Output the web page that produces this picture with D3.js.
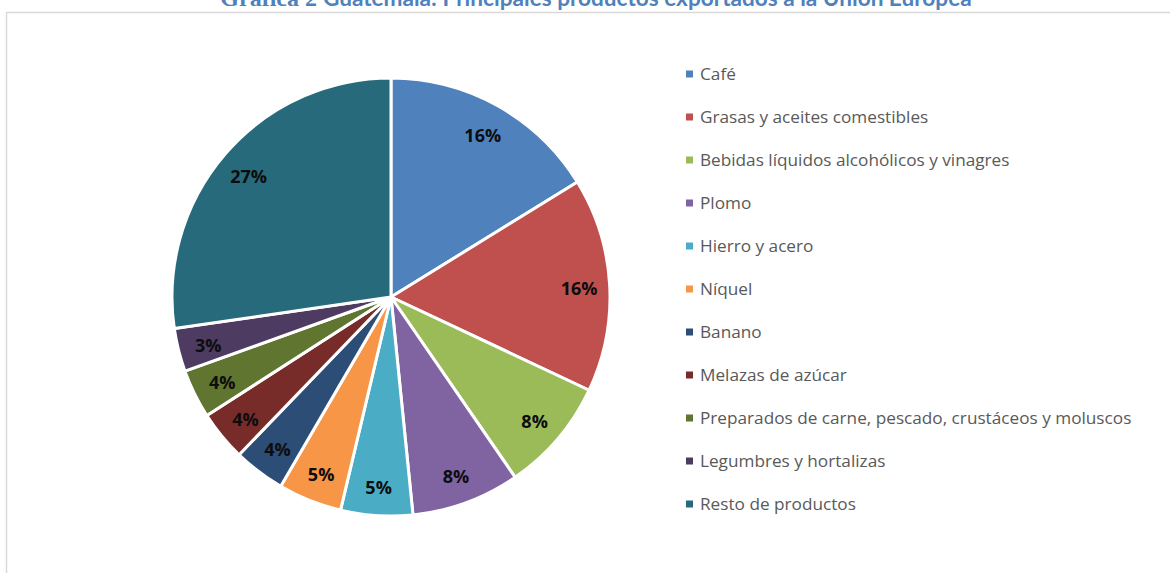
<!DOCTYPE html>
<html>
<head>
<meta charset="utf-8">
<script src="https://cdn.jsdelivr.net/npm/d3@7"></script>
<style>
  body { margin: 0; background: #fff; }
  svg { display: block; }
  .legend-text { font-family: "Open Sans", Lato, sans-serif; font-size: 17.2px; fill: #595959; }
  .pct { font-family: "Open Sans", Lato, sans-serif; font-size: 18px; font-weight: bold; fill: #0d0d0d; }
</style>
</head>
<body>
<svg id="chart"></svg>
<script>
const categories = [
  "Café", "Grasas y aceites comestibles", "Bebidas líquidos alcohólicos y vinagres",
  "Plomo", "Hierro y acero", "Níquel", "Banano", "Melazas de azúcar",
  "Preparados de carne, pescado, crustáceos y moluscos", "Legumbres y hortalizas",
  "Resto de productos"
];
const shares = [16.2, 15.8, 8.4, 8.0, 5.3, 4.7, 3.8, 3.7, 3.6, 3.2, 27.3];
const colors = ["#4f81bd", "#c0504d", "#9bbb59", "#8064a2", "#4bacc6", "#f79646",
                "#2c4d75", "#772c2a", "#5f7530", "#4d3b62", "#276a7c"];

const width = 1170, height = 573;
const svg = d3.select("#chart").attr("width", width).attr("height", height);

// chart area frame (only top and left edges show)
svg.append("rect")
  .attr("x", 6.5).attr("y", 12.5)
  .attr("width", 1200).attr("height", 600)
  .attr("fill", "none").attr("stroke", "#d9d9d9").attr("stroke-width", 1.5);

// title, cut off at top
const title = svg.append("text").attr("x", 596).attr("y", 6)
  .attr("text-anchor", "middle").attr("fill", "#4f81bd").attr("font-weight", "bold");
title.append("tspan").attr("font-family", "Liberation Serif, serif").attr("font-size", 24).text("Gráfica 2 ");
title.append("tspan").attr("font-family", "Lato, sans-serif").attr("font-size", 22.6)
  .text("Guatemala: Principales productos exportados a la Unión Europea");

const data = categories.map((c, i) => ({name: c, value: shares[i], color: colors[i]}));

const cx = 391, cy = 297, radius = 219;
const pie = d3.pie().sort(null).value(d => d.value);
const arc = d3.arc().innerRadius(0).outerRadius(radius);
const labelArc = d3.arc().innerRadius(radius * 0.86).outerRadius(radius * 0.86);

const g = svg.append("g").attr("transform", "translate(" + cx + "," + cy + ")");
const arcs = pie(data);

g.selectAll("path")
  .data(arcs)
  .enter().append("path")
    .attr("d", arc)
    .attr("fill", d => d.data.color)
    .attr("stroke", "#fff")
    .attr("stroke-width", 3)
    .attr("stroke-linejoin", "round");

g.selectAll(".pct")
  .data(arcs)
  .enter().append("text")
    .attr("class", "pct")
    .attr("transform", d => "translate(" + labelArc.centroid(d) + ")")
    .attr("text-anchor", "middle")
    .attr("dy", "0.5em")
    .text(d => Math.round(d.data.value) + "%");

// legend
const legend = svg.selectAll(".legend")
  .data(data)
  .enter().append("g")
    .attr("class", "legend")
    .attr("transform", (d, i) => "translate(686," + (74 + i * 43) + ")");

legend.append("rect")
  .attr("x", 0).attr("y", -3.5)
  .attr("width", 7).attr("height", 7)
  .attr("fill", d => d.color);

legend.append("text")
  .attr("class", "legend-text")
  .attr("x", 14)
  .attr("dy", "0.35em")
  .text(d => d.name);
</script>
</body>
</html>
